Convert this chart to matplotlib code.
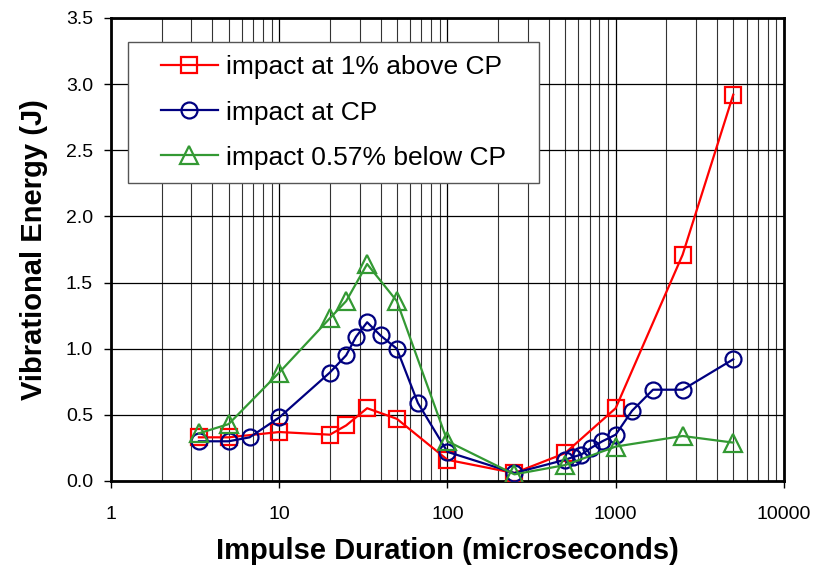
import numpy as np
import matplotlib
matplotlib.use('Agg')
import matplotlib.pyplot as plt
from matplotlib.patches import Rectangle
from matplotlib.ticker import FixedLocator, LogLocator, NullFormatter, FuncFormatter

plt.rcParams['font.family'] = ['Liberation Sans', 'DejaVu Sans']

# Data (impulse duration in microseconds, energy in J)
above_x = [3.33, 5, 10, 20, 25, 33.3, 50, 100, 250, 500, 1000, 2500, 5000]
above_y = [0.33, 0.33, 0.37, 0.35, 0.42, 0.55, 0.47, 0.16, 0.06, 0.21, 0.55, 1.71, 2.92]

at_x = [3.33, 5, 6.67, 10, 20, 25, 28.6, 33.3, 40, 50, 66.7, 100, 250,
        500, 555, 625, 714, 833, 1000, 1250, 1667, 2500, 5000]
at_y = [0.30, 0.30, 0.33, 0.48, 0.82, 0.95, 1.09, 1.20, 1.10, 1.00, 0.59, 0.22, 0.06,
        0.16, 0.18, 0.20, 0.25, 0.30, 0.35, 0.53, 0.69, 0.69, 0.92]

below_x = [3.33, 5, 10, 20, 25, 33.3, 50, 100, 250, 500, 1000, 2500, 5000]
below_y = [0.36, 0.43, 0.82, 1.23, 1.36, 1.64, 1.36, 0.30, 0.05, 0.12, 0.26, 0.34, 0.29]

labels = ['impact at 1% above CP', 'impact at CP', 'impact 0.57% below CP']

fig = plt.figure(figsize=(8.14, 5.73), dpi=100)
ax = fig.add_axes([0.1364, 0.1606, 0.8266, 0.808])

ax.plot(above_x, above_y, color='#ff0000', lw=1.6, marker='s', ms=11.5,
        mfc='none', mec='#ff0000', mew=1.6, label=labels[0], zorder=3)
ax.plot(at_x, at_y, color='#000080', lw=1.6, marker='o', ms=11.5,
        mfc='none', mec='#000080', mew=1.6, label=labels[1], zorder=4)
ax.plot(below_x, below_y, color='#339933', lw=1.6, marker='^', ms=12.5,
        mfc='none', mec='#339933', mew=1.6, label=labels[2], zorder=5)

ax.set_xscale('log')
ax.set_xlim(1, 10000)
ax.set_ylim(0, 3.5)
ax.xaxis.set_major_locator(FixedLocator([1, 10, 100, 1000, 10000]))
ax.xaxis.set_minor_locator(LogLocator(base=10, subs=np.arange(2, 10)))
ax.xaxis.set_minor_formatter(NullFormatter())
ax.xaxis.set_major_formatter(FuncFormatter(lambda v, p: f'{int(v)}'))
ax.set_yticks(np.arange(0, 3.51, 0.5))
ax.yaxis.set_major_formatter(FuncFormatter(lambda v, p: f'{v:.1f}'))

ax.grid(True, which='major', color='black', lw=0.9, zorder=0)
ax.grid(True, which='minor', axis='x', color='#333333', lw=0.8, zorder=0)
ax.set_axisbelow(True)

for s in ax.spines.values():
    s.set_linewidth(2)
ax.tick_params(axis='both', which='major', direction='out', length=5, width=1,
               labelsize=14, pad=8)
ax.tick_params(axis='x', which='major', pad=13)
ax.tick_params(axis='x', which='minor', length=0)

ax.set_xlabel('Impulse Duration (microseconds)', fontsize=21, fontweight='bold', labelpad=10)
ax.set_ylabel('Vibrational Energy (J)', fontsize=21, fontweight='bold', labelpad=13)

# legend frame drawn separately (wider side padding than top/bottom)
frame = Rectangle((0.0253, 0.644), 0.611, 0.304, transform=ax.transAxes,
                  facecolor='white', edgecolor='#555555', lw=1.0, zorder=9,
                  clip_on=False)
ax.add_patch(frame)
leg = ax.legend(loc='upper left', bbox_to_anchor=(0.0743, 0.919), borderaxespad=0,
                borderpad=0, fontsize=19, frameon=False, handlelength=2.15,
                handletextpad=0.3, labelspacing=0.8)
leg.set_zorder(10)

fig.savefig('out.png', dpi=100)
